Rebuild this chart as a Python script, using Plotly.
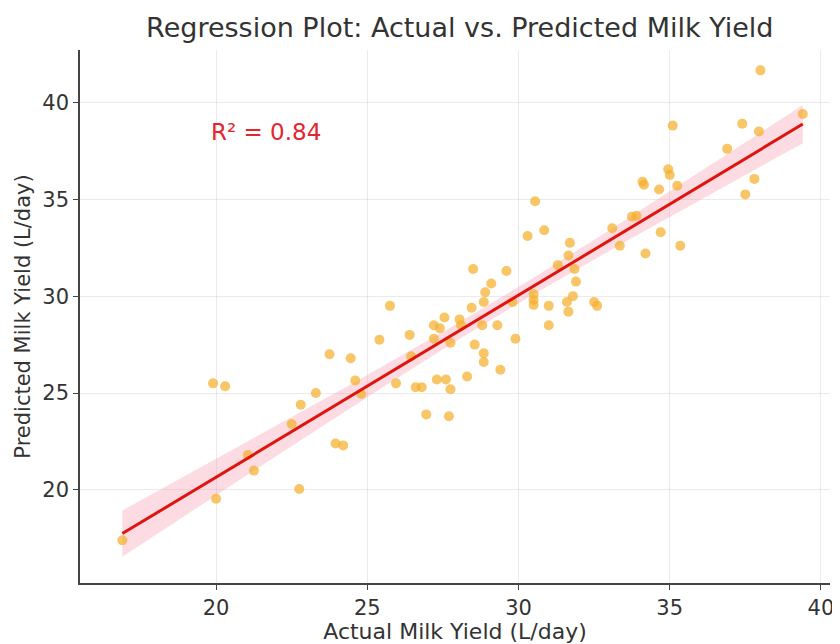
import numpy as np
import plotly.graph_objects as go

actual = [16.9, 19.9, 20.3, 20.0, 21.05, 21.25, 22.5, 22.75, 22.8, 23.3, 23.75, 23.95, 24.2,
          24.45, 24.6, 24.8, 25.4, 25.75, 25.95, 26.4, 26.45, 26.6, 26.8, 26.95, 27.2, 27.2,
          27.4, 27.55, 27.3, 27.6, 27.75, 27.7, 27.75, 28.05, 28.1, 28.3, 28.45, 28.5, 28.55,
          28.85, 28.9, 29.1, 28.8, 28.85, 28.85, 29.3, 29.4, 29.6, 29.9, 29.8, 30.5, 30.5,
          30.5, 31.0, 31.0, 30.3, 30.55, 30.85, 31.3, 31.65, 31.7, 31.85, 31.9, 31.8, 31.6,
          31.65, 32.5, 32.6, 33.1, 33.35, 33.75, 33.9, 34.2, 34.7, 35.35, 34.1, 34.15, 34.65,
          35.25, 34.95, 35.0, 35.1, 36.9, 37.4, 37.5, 37.8, 37.95, 38.0, 39.4]
predicted = [17.4, 25.5, 25.35, 19.55, 21.8, 21.0, 23.4, 20.05, 24.4, 25.0, 27.0, 22.4, 22.3,
             26.8, 25.65, 24.95, 27.75, 29.5, 25.5, 28.0, 26.9, 25.3, 25.3, 23.9, 27.8, 28.5,
             28.35, 28.9, 25.7, 25.7, 25.2, 23.8, 27.6, 28.8, 28.5, 25.85, 29.4, 31.4, 27.5,
             29.7, 30.2, 30.65, 28.5, 27.05, 26.6, 28.5, 26.2, 31.3, 27.8, 29.7, 29.8, 29.55,
             30.1, 29.5, 28.5, 33.1, 34.9, 33.4, 31.6, 32.1, 32.75, 31.4, 30.75, 30.0, 29.7,
             29.2, 29.7, 29.5, 33.5, 32.6, 34.1, 34.15, 32.2, 33.3, 32.6, 35.9, 35.75, 35.5,
             35.7, 36.55, 36.25, 38.8, 37.6, 38.9, 35.25, 36.05, 38.5, 41.65, 39.4]

r2_label = "R² = 0.84"
title = "Regression Plot: Actual vs. Predicted Milk Yield"
x_title = "Actual Milk Yield (L/day)"
y_title = "Predicted Milk Yield (L/day)"
x_ticks = [20, 25, 30, 35, 40]
y_ticks = [20, 25, 30, 35, 40]

x = np.array(actual)
y = np.array(predicted)
n = len(x)
b1, b0 = np.polyfit(x, y, 1)
xs = np.linspace(x.min(), x.max(), 100)
ys = b0 + b1 * xs
resid = y - (b0 + b1 * x)
s = np.sqrt(np.sum(resid ** 2) / (n - 2))
sxx = np.sum((x - x.mean()) ** 2)
se = s * np.sqrt(1.0 / n + (xs - x.mean()) ** 2 / sxx)
upper = ys + 1.98 * se
lower = ys - 1.98 * se

FONT = "DejaVu Sans"

fig = go.Figure()
fig.add_trace(go.Scatter(x=np.concatenate([xs, xs[::-1]]), y=np.concatenate([upper, lower[::-1]]),
                         fill="toself", fillcolor="rgba(245,140,160,0.3)",
                         line=dict(width=0), hoverinfo="skip", showlegend=False))
fig.add_trace(go.Scatter(x=x, y=y, mode="markers",
                         marker=dict(color="rgba(245,175,45,0.72)", size=10, line=dict(width=0)),
                         showlegend=False))
fig.add_trace(go.Scatter(x=xs, y=ys, mode="lines", line=dict(color="#e0140f", width=3),
                         showlegend=False))

fig.add_annotation(x=19.75, y=38.45, text=r2_label, showarrow=False, xanchor="left",
                   font=dict(family=FONT, size=23, color="#e3262e"))

axis_common = dict(showline=True, linecolor="#444", linewidth=1.5, mirror=False,
                   ticks="outside", ticklen=5, tickcolor="#444", automargin=False,
                   showgrid=True, gridcolor="rgba(0,0,0,0.08)", gridwidth=1,
                   zeroline=False, tickfont=dict(family=FONT, size=21, color="#333"))

fig.update_layout(
    width=832, height=636,
    paper_bgcolor="white", plot_bgcolor="white",
    margin=dict(l=72, r=10, t=42, b=61),
    title=dict(text=title, x=0.543, xanchor="center", y=0.970, yanchor="middle",
               font=dict(family=FONT, size=27, color="#333")),
    xaxis=dict(range=[15.5, 40.3], tickvals=x_ticks,
               title=dict(text=x_title, standoff=0, font=dict(family=FONT, size=22, color="#333")),
               **axis_common),
    yaxis=dict(range=[15.2, 42.7], tickvals=y_ticks,
               title=dict(text=y_title, standoff=6, font=dict(family=FONT, size=21, color="#333")),
               **axis_common),
)

fig.write_html("out.html")
